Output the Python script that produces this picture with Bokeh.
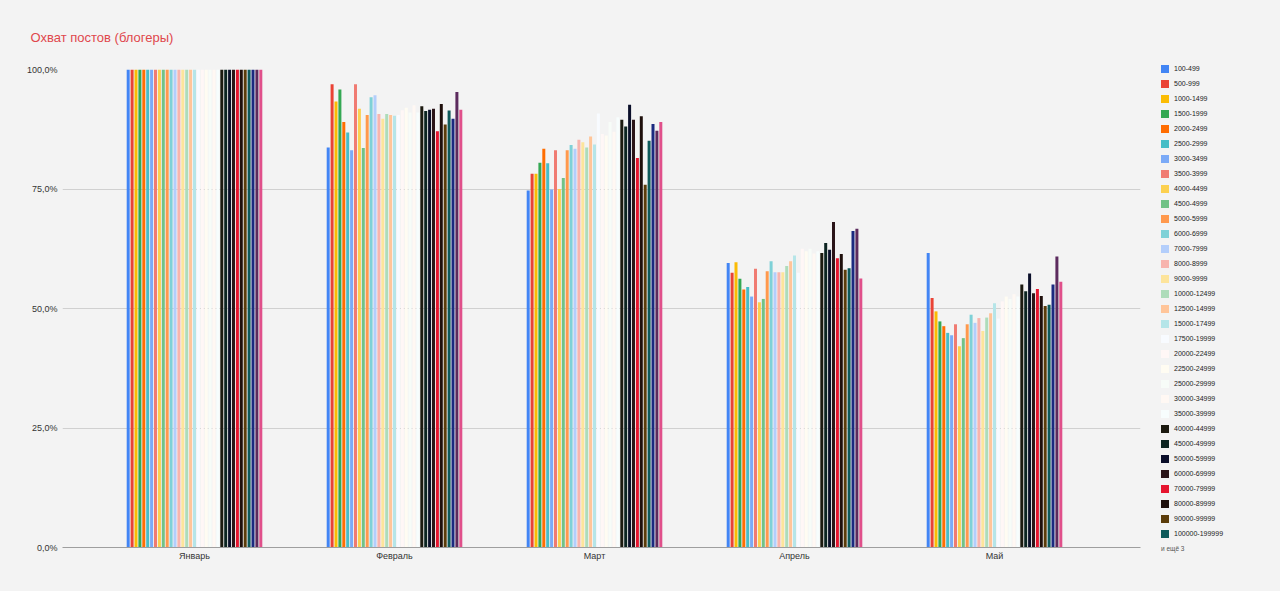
from bokeh.plotting import figure
from bokeh.layouts import row
from bokeh.models import Range1d, FixedTicker, Div
from bokeh.embed import file_html
from bokeh.resources import INLINE

months = ["Январь", "Февраль", "Март", "Апрель", "Май"]

names = ["100-499", "500-999", "1000-1499", "1500-1999", "2000-2499", "2500-2999",
         "3000-3499", "3500-3999", "4000-4499", "4500-4999", "5000-5999", "6000-6999",
         "7000-7999", "8000-8999", "9000-9999", "10000-12499", "12500-14999",
         "15000-17499", "17500-19999", "20000-22499", "22500-24999", "25000-29999",
         "30000-34999", "35000-39999", "40000-44999", "45000-49999", "50000-59999",
         "60000-69999", "70000-79999", "80000-89999", "90000-99999", "100000-199999",
         "200000-499999", "500000-999999", "1000000+"]

colors = ["#4285f4", "#ea4335", "#fbbc04", "#34a853", "#ff6d01", "#46bdc6",
          "#7baaf7", "#f07b72", "#fcd04f", "#71c287", "#ff994d", "#7ed1d7",
          "#b3cefb", "#f7b4ae", "#fde49b", "#aedcba", "#ffc599", "#b5e5e8",
          "#f8fbff", "#fff7f6", "#fffcf2", "#f7fcf8", "#fff8f3", "#f7fdfd",
          "#1c1a10", "#0c2421", "#0b0f2a", "#2a1418", "#e6152f", "#1e0f0b",
          "#5b3c0a", "#0e5a5a", "#1b2a80", "#5c2b5e", "#e04f8a"]

jan = [100.0, 100.0, 100.0, 100.0, 100.0, 100.0, 100.0, 100.0, 100.0, 100.0,
       100.0, 100.0, 100.0, 100.0, 100.0, 100.0, 100.0, 100.0, 100.0, 100.0,
       100.0, 100.0, 100.0, 100.0, 100.0, 100.0, 100.0, 100.0, 100.0, 100.0,
       100.0, 100.0, 100.0, 100.0, 100.0]
feb = [83.7, 96.9, 93.3, 95.8, 89.0, 86.8, 83.1, 96.9, 91.8, 83.6,
       90.5, 94.2, 94.6, 90.7, 89.7, 90.7, 90.5, 90.3, 90.5, 91.5,
       92.0, 91.0, 92.5, 91.0, 92.3, 91.3, 91.6, 91.8, 87.1, 92.8,
       88.5, 91.4, 89.7, 95.3, 91.6]
mar = [74.7, 78.2, 78.2, 80.5, 83.4, 80.4, 74.9, 83.1, 75.0, 77.3,
       83.1, 84.2, 83.4, 85.3, 84.8, 83.7, 86.0, 84.3, 90.8, 86.5,
       86.2, 89.0, 87.0, 90.0, 89.5, 88.1, 92.6, 89.5, 81.5, 90.2,
       75.9, 85.1, 88.6, 87.2, 89.0]
apr = [59.5, 57.5, 59.7, 56.2, 54.0, 54.5, 52.5, 58.3, 51.3, 52.0,
       57.8, 59.9, 57.6, 57.6, 57.6, 58.9, 59.9, 61.1, 57.5, 62.5,
       62.0, 62.5, 61.5, 62.0, 61.6, 63.7, 62.3, 68.1, 60.5, 61.4,
       58.1, 58.4, 66.2, 66.7, 56.3]
may = [61.6, 52.2, 49.4, 47.3, 46.3, 44.9, 44.4, 46.7, 42.1, 43.8,
       46.7, 48.7, 47.0, 48.0, 45.3, 48.1, 49.0, 51.1, 47.9, 51.5,
       52.5, 52.0, 53.0, 52.5, 55.0, 53.6, 57.3, 53.2, 54.1, 52.6,
       50.5, 50.8, 55.0, 60.9, 55.6]

y_ticks = [0, 25, 50, 75, 100]
y_labels = ["0,0%", "25,0%", "50,0%", "75,0%", "100,0%"]
legend_shown = 32
legend_more = "и ещё 3"

BG = "#f3f3f3"
FONT = "Liberation Sans"

by_month = [jan, feb, mar, apr, may]
n = len(names)
step = 0.0195
bar_w = 0.015

# ---------------- main chart ----------------
p = figure(width=1150, height=591, output_backend="svg", toolbar_location=None,
           x_range=Range1d(-0.66, 4.73), y_range=Range1d(0, 100),
           background_fill_color=BG, border_fill_color=BG,
           min_border_left=62, min_border_right=10, min_border_top=69,
           min_border_bottom=44, outline_line_color=None)

p.title.text = "Охват постов (блогеры)"
p.title.text_font = FONT
p.title.text_font_size = "13px"
p.title.text_font_style = "normal"
p.title.text_color = "#e0474c"
p.title.align = "left"
p.title.offset = -32
p.title.standoff = 49

for i in range(n):
    xs = [m + (i - (n - 1) / 2) * step for m in range(len(months))]
    tops = [by_month[m][i] for m in range(len(months))]
    p.vbar(x=xs, top=tops, bottom=0, width=bar_w,
           fill_color=colors[i], line_color=None)

p.xaxis.ticker = FixedTicker(ticks=list(range(len(months))))
p.xaxis.major_label_overrides = {i: m for i, m in enumerate(months)}
p.xaxis.axis_line_color = "#9e9e9e"
p.xaxis.major_tick_line_color = None
p.xaxis.minor_tick_line_color = None
p.xaxis.major_tick_out = 0
p.xaxis.major_tick_in = 0
p.xaxis.major_label_text_font = FONT
p.xaxis.major_label_text_font_size = "9px"
p.xaxis.major_label_text_color = "#333333"
p.xaxis.major_label_standoff = 3

p.yaxis.ticker = FixedTicker(ticks=y_ticks)
p.yaxis.major_label_overrides = {t: l for t, l in zip(y_ticks, y_labels)}
p.yaxis.axis_line_color = None
p.yaxis.major_tick_line_color = None
p.yaxis.minor_tick_line_color = None
p.yaxis.major_tick_out = 0
p.yaxis.major_tick_in = 0
p.yaxis.major_label_text_font = FONT
p.yaxis.major_label_text_font_size = "9px"
p.yaxis.major_label_text_color = "#333333"
p.yaxis.major_label_standoff = 5

p.xgrid.grid_line_color = None
p.ygrid.grid_line_color = "#d0d0d0"

# ---------------- legend (HTML) ----------------
parts = []
for k in range(legend_shown):
    top = 61.5 + 15 * k
    parts.append(
        f'<div style="position:absolute;left:11px;top:{top}px;height:15px;'
        f'display:flex;align-items:center;white-space:nowrap;">'
        f'<span style="display:inline-block;width:8px;height:8px;'
        f'background:{colors[k]};margin-right:5px;"></span>'
        f'<span style="font-family:\'Liberation Sans\';font-size:7px;'
        f'color:#222222;">{names[k]}</span></div>')
top = 61.5 + 15 * legend_shown
parts.append(
    f'<div style="position:absolute;left:11px;top:{top}px;height:15px;'
    f'display:flex;align-items:center;white-space:nowrap;'
    f'font-family:\'Liberation Sans\';font-size:6.5px;color:#555555;">'
    f'{legend_more}</div>')

legend_div = Div(
    text=(f'<div style="position:relative;width:130px;height:591px;'
          f'background:{BG};">' + "".join(parts) + '</div>'),
    width=130, height=591, margin=(0, 0, 0, 0),
    styles={"background-color": BG})

layout = row(p, legend_div, spacing=0, styles={"background-color": BG})
html = file_html(layout, INLINE)
html = html.replace("<head>", "<head><style>html, body { background: #f3f3f3; }</style>", 1)
open("out.html", "w").write(html)
